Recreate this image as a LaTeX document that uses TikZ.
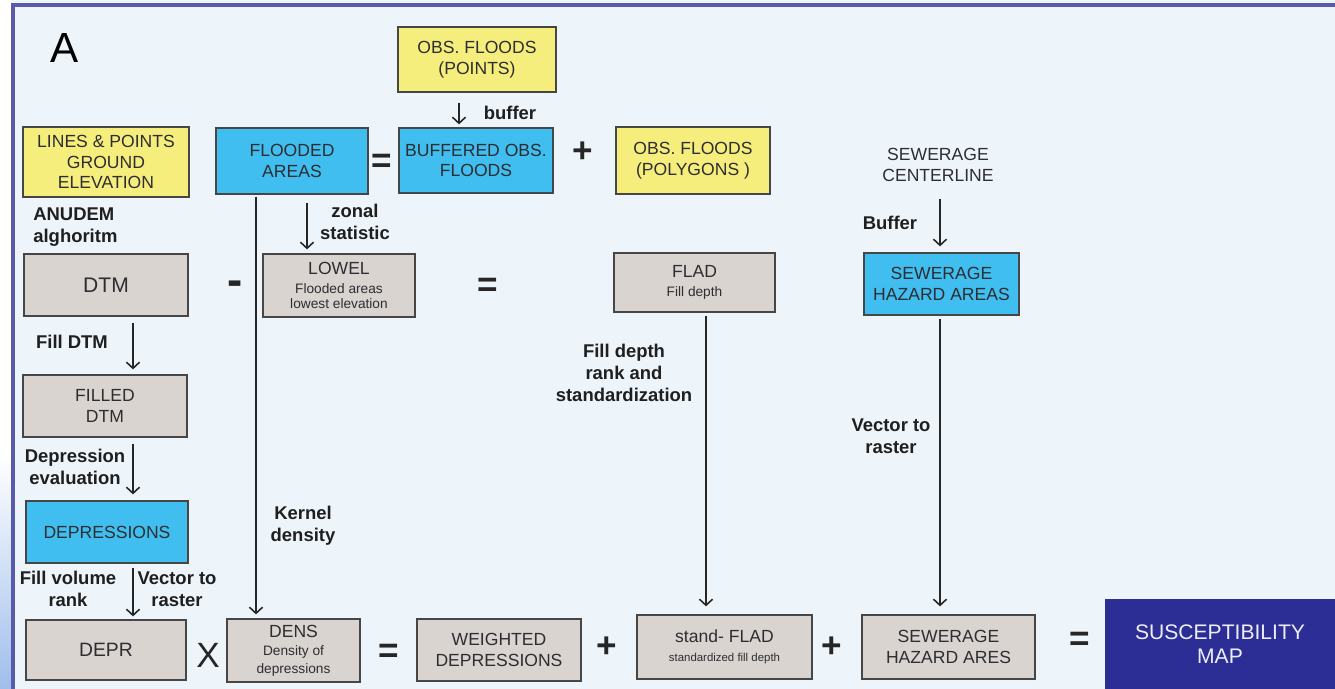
\documentclass[tikz,border=0pt]{standalone}
\usepackage{fontspec}
\setmainfont{Liberation Sans}
\usepackage{xcolor}
\usepackage{tikz}
\usetikzlibrary{arrows.meta,positioning,calc}
\definecolor{slidebg}{RGB}{237,244,250}
\definecolor{frameblue}{RGB}{86,92,170}
\definecolor{stripblue}{RGB}{160,190,236}
\definecolor{boxyellow}{RGB}{246,238,124}
\definecolor{boxcyan}{RGB}{64,190,239}
\definecolor{boxgray}{RGB}{217,212,207}
\definecolor{boxedge}{RGB}{70,70,70}
\definecolor{mapnavy}{RGB}{44,46,150}
\definecolor{inktext}{RGB}{45,45,50}

% small second line inside a box
\newcommand{\subtxt}[1]{{\fontsize{7.8}{9}\selectfont #1}}

\begin{document}
\begin{tikzpicture}[x=0.02cm, y=-0.02cm,
    font=\fontsize{10}{11.6}\selectfont,
    box/.style={draw=boxedge, line width=0.7pt, align=center, text=inktext, inner sep=1pt},
    sz/.style 2 args={minimum width=#1*0.02cm, minimum height=#2*0.02cm},
    ybox/.style={box, fill=boxyellow},
    cbox/.style={box, fill=boxcyan},
    gbox/.style={box, fill=boxgray},
    mapbox/.style={fill=mapnavy, draw=mapnavy, align=center, text=white!92!mapnavy,
                   font=\fontsize{12}{13}\selectfont},
    opsign/.style={font=\fontsize{20}{20}\selectfont\bfseries, text=black!85, inner sep=0pt},
    steplabel/.style={font=\fontsize{10.5}{12.3}\selectfont\bfseries, align=center, text=black!88, inner sep=0pt},
    arr/.style={line width=0.9pt, draw=black!85, -{Straight Barb[length=3.5pt,width=7.5pt]}}]

    \useasboundingbox (0,0) rectangle (1335,689);

    % Slide background and frame
    \fill[slidebg] (0,0) rectangle (1335,689);
    \fill[white] (0,0) rectangle (11,689);
    \shade[top color=white, bottom color=stripblue] (0,455) rectangle (11,689);
    \draw[frameblue, line width=2.2pt] (13,689) -- (13,5) -- (1335,5);

    \node[font=\fontsize{24}{24}\selectfont, text=black] (panel) at (65,48) {A};

    % Input layers
    \node[ybox, sz={166}{70}] (lpge) at (106,162) {LINES \& POINTS\\GROUND\\ELEVATION};
    \node[ybox, sz={158}{65}] (obspts) at (477,59.5) {OBS. FLOODS\\(POINTS)};
    \node[ybox, sz={154}{67}] (obspoly) at (693,160.5) {OBS. FLOODS\\(POLYGONS )};
    \node[align=center, text=inktext, inner sep=0pt] (sewcl) at (938,165) {SEWERAGE\\CENTERLINE};

    % Intermediate layers
    \node[cbox, sz={152}{66}] (flooded) at (292,161) {FLOODED\\AREAS};
    \node[cbox, sz={154}{65}] (buffered) at (476,160.5) {BUFFERED OBS.\\FLOODS};
    \node[cbox, sz={155}{62}] (sewhaz) at (941.5,284) {SEWERAGE\\HAZARD AREAS};
    \node[gbox, sz={164}{62}, font=\fontsize{12}{13}\selectfont] (dtm) at (106,285) {DTM};
    \node[gbox, sz={152}{63}] (lowel) at (339,285.5)
        {LOWEL\\[-1pt]\subtxt{Flooded areas}\\[-3pt]\subtxt{lowest elevation}};
    \node[gbox, sz={161}{59}] (flad) at (694.5,282.5) {FLAD\\[-1pt]\subtxt{Fill depth}};
    \node[gbox, sz={164}{62}] (filled) at (105,406) {FILLED\\DTM};
    \node[cbox, sz={162}{62}] (depress) at (107,532) {DEPRESSIONS};

    % Bottom row
    \node[gbox, sz={160}{60}, font=\fontsize{11}{12}\selectfont] (depr) at (106,650) {DEPR};
    \node[gbox, sz={133}{63}] (dens) at (293.5,650.5)
        {DENS\\[-1pt]\subtxt{Density of}\\[-1.5pt]\subtxt{depressions}};
    \node[gbox, sz={164}{62}] (weighted) at (499,650) {WEIGHTED\\DEPRESSIONS};
    \node[gbox, sz={175}{64}] (standflad) at (724.5,647)
        {stand- FLAD\\[-1pt]{\fontsize{6.5}{7.5}\selectfont standardized fill depth}};
    \node[gbox, sz={173}{64}] (sewares) at (948.5,647) {SEWERAGE\\HAZARD ARES};
    \node[mapbox, sz={230}{90}] (susmap) at (1220,644) {SUSCEPTIBILITY\\[1pt]MAP};

    % Operators between layers
    \node[opsign] (eqA) at (382,163) {=};
    \node[opsign] (plusA) at (583,152) {+};
    \node[opsign, font=\fontsize{26}{26}\selectfont\bfseries] (minusA) at (235,288) {-};
    \node[opsign] (eqB) at (488,287) {=};
    \node[opsign, font=\fontsize{20}{20}\selectfont] (timesA) at (208,655) {X};
    \node[opsign] (eqC) at (389,653) {=};
    \node[opsign] (plusB) at (607,647) {+};
    \node[opsign] (plusC) at (832,647) {+};
    \node[opsign] (eqD) at (1080,641) {=};

    % Processing step labels
    \node[steplabel, anchor=west, align=left] (anudem) at (33,227) {ANUDEM\\alghoritm};
    \node[steplabel] (filldtm) at (72,342) {Fill DTM};
    \node[steplabel] (deprev) at (75,467) {Depression\\evaluation};
    \node[steplabel] (fillvol) at (68,589) {Fill volume\\rank};
    \node[steplabel] (vecrasA) at (177,589) {Vector to\\raster};
    \node[steplabel] (kernel) at (303,526) {Kernel\\density};
    \node[steplabel] (zonal) at (355,222) {zonal\\statistic};
    \node[steplabel] (buffer) at (510,113) {buffer};
    \node[steplabel] (filldepth) at (624,373) {Fill depth\\rank and\\standardization};
    \node[steplabel] (bufferS) at (890,223) {Buffer};
    \node[steplabel] (vecrasB) at (891,436) {Vector to\\raster};

    % Vertical lanes of the connectors
    \coordinate (laneBuf) at (459,0);
    \coordinate (laneSew) at (940,0);
    \coordinate (laneZon) at (307,0);
    \coordinate (laneKer) at (256,0);
    \coordinate (laneDtm) at (133,0);
    \coordinate (laneFlad) at (706,0);

    % Connectors
    \draw[arr, shorten <=0.2cm, shorten >=0.06cm] (obspts.south -| laneBuf) -- (buffered.north -| laneBuf);
    \draw[arr, shorten <=0.34cm, shorten >=0.12cm] (sewcl.south -| laneSew) -- (sewhaz.north -| laneSew);
    \draw[arr, shorten <=0.16cm, shorten >=0.08cm] (flooded.south -| laneZon) -- (lowel.north -| laneZon);
    \draw[arr, shorten <=0.04cm, shorten >=0.08cm] (flooded.south -| laneKer) -- (dens.north -| laneKer);
    \draw[arr, shorten <=0.12cm, shorten >=0.1cm] (dtm.south -| laneDtm) -- (filled.north -| laneDtm);
    \draw[arr, shorten <=0.12cm, shorten >=0.12cm] (filled.south -| laneDtm) -- (depress.north -| laneDtm);
    \draw[arr, shorten <=0.08cm, shorten >=0.06cm] (depress.south -| laneDtm) -- (depr.north -| laneDtm);
    \draw[arr, shorten <=0.06cm, shorten >=0.16cm] (flad.south -| laneFlad) -- (standflad.north -| laneFlad);
    \draw[arr, shorten <=0.06cm, shorten >=0.16cm] (sewhaz.south -| laneSew) -- (sewares.north -| laneSew);
\end{tikzpicture}
\end{document}
